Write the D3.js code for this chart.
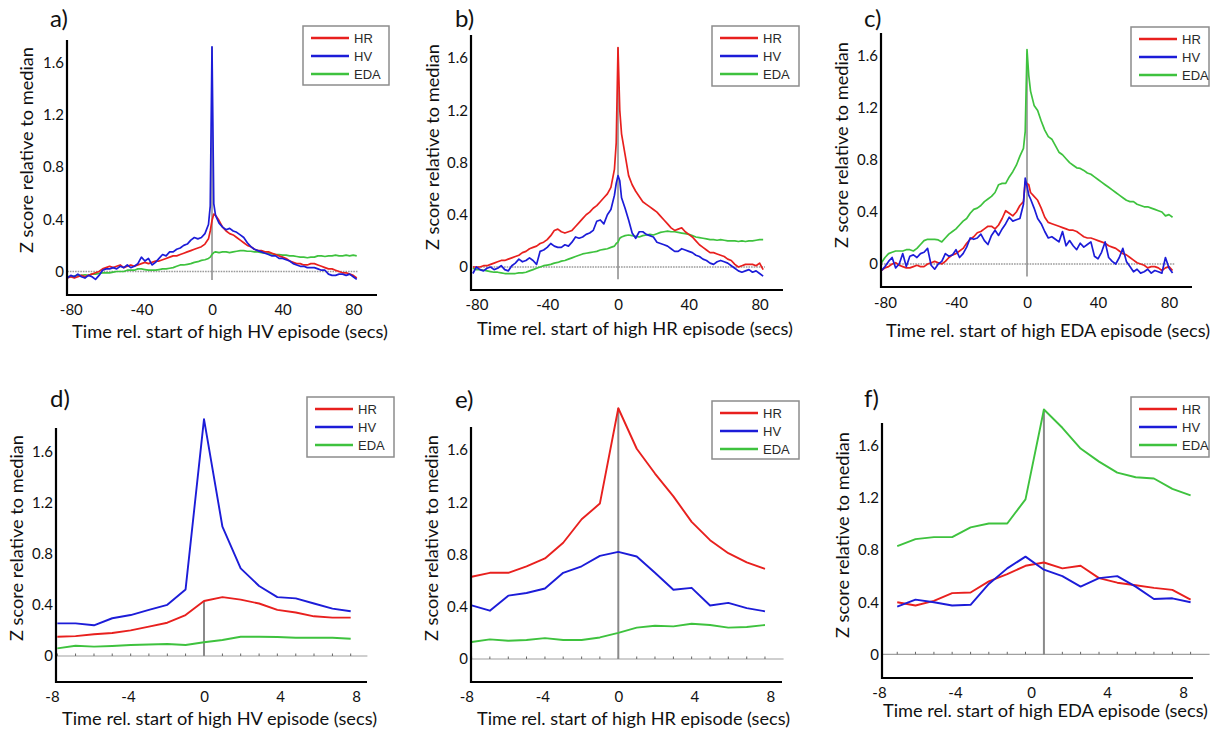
<!DOCTYPE html>
<html>
<head>
<meta charset="utf-8">
<script src="https://cdn.jsdelivr.net/npm/d3@7"></script>
<style>
  body { margin: 0; background: #fff; }
  svg { display: block; }
</style>
</head>
<body>
<div id="chart"></div>
<script>
// sample times (secs) - top row every 2 s, plus 1 s around the onset
const tTop = [
  -82, -80, -78, -76, -74, -72, -70, -68, -66, -64,
  -62, -60, -58, -56, -54, -52, -50, -48, -46, -44,
  -42, -40, -38, -36, -34, -32, -30, -28, -26, -24,
  -22, -20, -18, -16, -14, -12, -10, -8, -6, -4,
  -2, -1, 0, 1, 2, 4, 6, 8, 10, 12,
  14, 16, 18, 20, 22, 24, 26, 28, 30, 32,
  34, 36, 38, 40, 42, 44, 46, 48, 50, 52,
  54, 56, 58, 60, 62, 64, 66, 68, 70, 72,
  74, 76, 78, 80, 82
];
const tBottom = [-7.72, -6.76, -5.79, -4.83, -3.86, -2.9, -1.93, -0.97, 0, 0.97, 1.93, 2.9, 3.86, 4.83, 5.79, 6.76, 7.72];
const tBottomF = [-7.04, -6.08, -5.11, -4.15, -3.18, -2.22, -1.25, -0.29, 0.68, 1.65, 2.61, 3.58, 4.54, 5.51, 6.47, 7.44, 8.4];

const seriesNames = ['HR', 'HV', 'EDA'];
const seriesColors = ['#e8201e', '#1c1cd8', '#3ec23e'];

// a) high HV episode, 1 s data
const aHR = [
  -0.05, -0.04, -0.05, -0.04, -0.03, -0.04, -0.03, -0.02, -0.01, 0.00,
  0.02, 0.03, 0.04, 0.03, 0.04, 0.05, 0.03, 0.04, 0.05, 0.04,
  0.05, 0.06, 0.07, 0.06, 0.07, 0.08, 0.08, 0.09, 0.10, 0.11,
  0.12, 0.12, 0.13, 0.14, 0.15, 0.16, 0.17, 0.18, 0.19, 0.21,
  0.25, 0.31, 0.39, 0.44, 0.43, 0.39, 0.34, 0.31, 0.29, 0.28,
  0.26, 0.24, 0.22, 0.20, 0.19, 0.17, 0.16, 0.16, 0.15, 0.15,
  0.14, 0.13, 0.12, 0.11, 0.10, 0.08, 0.07, 0.06, 0.06, 0.05,
  0.05, 0.06, 0.06, 0.05, 0.04, 0.03, 0.02, 0.02, 0.01, 0.00,
  -0.01, -0.01, -0.02, -0.03, -0.05
];
const aHV = [
  -0.05, -0.03, -0.04, -0.02, -0.04, -0.05, -0.03, -0.04, -0.06, -0.03,
  0.01, 0.02, 0.02, 0.03, 0.02, 0.04, 0.03, 0.05, 0.03, 0.04,
  0.06, 0.11, 0.08, 0.10, 0.05, 0.07, 0.10, 0.13, 0.12, 0.15,
  0.15, 0.17, 0.18, 0.20, 0.21, 0.24, 0.26, 0.25, 0.26, 0.29,
  0.36, 0.50, 1.72, 0.52, 0.43, 0.37, 0.34, 0.32, 0.33, 0.31,
  0.30, 0.28, 0.26, 0.22, 0.19, 0.17, 0.16, 0.15, 0.14, 0.13,
  0.12, 0.12, 0.10, 0.10, 0.09, 0.08, 0.06, 0.05, 0.04, 0.04,
  0.03, 0.03, 0.03, 0.02, 0.01, 0.01, -0.02, -0.03, -0.03, -0.02,
  -0.02, -0.03, -0.02, -0.04, -0.06
];
const aEDA = [
  -0.04, -0.04, -0.035, -0.03, -0.03, -0.025, -0.03, -0.02, -0.02, -0.015,
  -0.01, -0.01, -0.01, -0.005, 0.00, 0.00, 0.00, 0.01, 0.01, 0.01,
  0.02, 0.02, 0.015, 0.01, 0.01, 0.01, 0.015, 0.02, 0.02, 0.025,
  0.03, 0.04, 0.05, 0.05, 0.055, 0.06, 0.07, 0.075, 0.085, 0.09,
  0.10, 0.11, 0.13, 0.145, 0.15, 0.145, 0.15, 0.15, 0.145, 0.15,
  0.155, 0.16, 0.16, 0.155, 0.155, 0.15, 0.15, 0.145, 0.14, 0.14,
  0.135, 0.13, 0.13, 0.125, 0.125, 0.12, 0.12, 0.115, 0.11, 0.11,
  0.105, 0.11, 0.11, 0.12, 0.12, 0.115, 0.12, 0.12, 0.125, 0.12,
  0.12, 0.125, 0.12, 0.125, 0.12
];

// b) high HR episode, 1 s data
const bHR = [
  0.00, 0.00, 0.00, 0.01, 0.01, 0.02, 0.03, 0.04, 0.05, 0.05,
  0.06, 0.07, 0.08, 0.09, 0.11, 0.12, 0.14, 0.15, 0.16, 0.18,
  0.19, 0.21, 0.24, 0.28, 0.29, 0.27, 0.26, 0.27, 0.28, 0.31,
  0.34, 0.37, 0.40, 0.42, 0.45, 0.47, 0.50, 0.53, 0.56, 0.61,
  0.75, 0.95, 1.68, 1.20, 1.02, 0.86, 0.70, 0.63, 0.58, 0.54,
  0.50, 0.48, 0.46, 0.44, 0.42, 0.39, 0.36, 0.33, 0.30, 0.28,
  0.29, 0.30, 0.27, 0.25, 0.23, 0.20, 0.17, 0.15, 0.13, 0.11,
  0.11, 0.10, 0.09, 0.08, 0.06, 0.05, 0.02, 0.00, 0.01, 0.02,
  0.02, 0.02, 0.01, 0.03, -0.02
];
const bHV = [
  -0.05, 0.00, -0.02, -0.03, -0.01, 0.00, -0.02, -0.01, 0.01, -0.02,
  -0.03, 0.01, 0.03, 0.06, 0.04, 0.05, 0.07, 0.05, 0.02, 0.12,
  0.13, 0.15, 0.18, 0.16, 0.15, 0.15, 0.17, 0.16, 0.19, 0.23,
  0.22, 0.23, 0.25, 0.26, 0.28, 0.35, 0.36, 0.33, 0.40, 0.44,
  0.55, 0.64, 0.70, 0.66, 0.53, 0.45, 0.36, 0.26, 0.22, 0.27,
  0.27, 0.25, 0.24, 0.23, 0.19, 0.18, 0.17, 0.16, 0.14, 0.12,
  0.12, 0.14, 0.13, 0.12, 0.11, 0.09, 0.08, 0.06, 0.05, 0.03,
  0.02, 0.04, 0.05, 0.04, 0.03, 0.01, -0.01, -0.03, -0.04, -0.03,
  -0.02, -0.04, -0.03, -0.05, -0.07
];
const bEDA = [
  -0.01, -0.02, -0.02, -0.025, -0.03, -0.035, -0.04, -0.04, -0.045, -0.05,
  -0.05, -0.05, -0.05, -0.045, -0.045, -0.04, -0.03, -0.02, -0.01, 0.00,
  0.01, 0.015, 0.02, 0.03, 0.035, 0.045, 0.05, 0.06, 0.07, 0.08,
  0.09, 0.10, 0.105, 0.11, 0.115, 0.12, 0.13, 0.135, 0.14, 0.15,
  0.16, 0.18, 0.19, 0.22, 0.23, 0.24, 0.245, 0.24, 0.235, 0.23,
  0.24, 0.245, 0.25, 0.245, 0.255, 0.265, 0.27, 0.275, 0.27, 0.27,
  0.265, 0.26, 0.255, 0.25, 0.24, 0.23, 0.225, 0.22, 0.215, 0.21,
  0.21, 0.205, 0.21, 0.205, 0.20, 0.20, 0.20, 0.195, 0.20, 0.195,
  0.20, 0.20, 0.205, 0.21, 0.21
];

// c) high EDA episode, 1 s data
const cHR = [
  -0.05, -0.03, -0.02, 0.00, 0.01, -0.01, -0.02, -0.03, -0.03, -0.02,
  -0.01, -0.02, -0.02, 0.00, 0.01, 0.02, 0.01, 0.00, 0.02, 0.05,
  0.07, 0.08, 0.10, 0.12, 0.16, 0.19, 0.21, 0.24, 0.25, 0.27,
  0.29, 0.29, 0.27, 0.30, 0.35, 0.41, 0.39, 0.37, 0.40, 0.45,
  0.48, 0.63, 0.62, 0.61, 0.55, 0.52, 0.49, 0.43, 0.36, 0.32,
  0.31, 0.30, 0.29, 0.28, 0.27, 0.26, 0.26, 0.25, 0.23, 0.21,
  0.20, 0.20, 0.19, 0.18, 0.17, 0.16, 0.14, 0.13, 0.12, 0.10,
  0.08, 0.07, 0.05, 0.03, 0.01, 0.00, -0.01, -0.03, -0.02, -0.02,
  -0.03, -0.05, -0.03, -0.02, -0.05
];
const cHV = [
  -0.05, -0.02, 0.02, 0.05, -0.03, 0.00, 0.08, -0.02, 0.06, 0.07,
  0.05, 0.08, 0.09, 0.12, -0.01, -0.04, 0.00, 0.02, 0.08, 0.06,
  0.07, 0.11, 0.05, 0.08, 0.13, 0.20, 0.19, 0.20, 0.23, 0.18,
  0.15, 0.22, 0.26, 0.22, 0.27, 0.31, 0.36, 0.33, 0.34, 0.35,
  0.46, 0.66, 0.60, 0.53, 0.50, 0.43, 0.35, 0.31, 0.25, 0.20,
  0.21, 0.19, 0.17, 0.25, 0.14, 0.18, 0.14, 0.11, 0.16, 0.13,
  0.15, 0.17, 0.06, 0.04, 0.09, 0.17, 0.05, 0.02, 0.00, 0.05,
  0.12, 0.02, -0.02, -0.06, -0.04, -0.07, -0.06, -0.04, -0.07, -0.05,
  -0.06, -0.07, 0.05, -0.03, -0.07
];
const cEDA = [
  0.01, 0.05, 0.08, 0.09, 0.10, 0.10, 0.10, 0.11, 0.11, 0.10,
  0.12, 0.15, 0.18, 0.19, 0.19, 0.19, 0.185, 0.17, 0.20, 0.23,
  0.25, 0.27, 0.30, 0.33, 0.35, 0.39, 0.42, 0.43, 0.45, 0.48,
  0.50, 0.52, 0.55, 0.61, 0.62, 0.62, 0.67, 0.71, 0.76, 0.83,
  0.89, 1.02, 1.65, 1.45, 1.33, 1.22, 1.18, 1.10, 1.03, 0.98,
  0.96, 0.91, 0.86, 0.84, 0.81, 0.78, 0.76, 0.74, 0.735, 0.72,
  0.70, 0.69, 0.67, 0.65, 0.63, 0.61, 0.59, 0.57, 0.55, 0.53,
  0.51, 0.49, 0.48, 0.48, 0.46, 0.45, 0.44, 0.44, 0.43, 0.42,
  0.41, 0.40, 0.37, 0.38, 0.36
];

// d) e) f) coarse 1 s bins
const dHR = [0.15, 0.155, 0.17, 0.18, 0.20, 0.23, 0.26, 0.32, 0.43, 0.46, 0.44, 0.41, 0.36, 0.34, 0.31, 0.30, 0.30];
const dHV = [0.255, 0.255, 0.24, 0.295, 0.32, 0.36, 0.40, 0.52, 1.85, 1.01, 0.685, 0.547, 0.46, 0.45, 0.41, 0.37, 0.35];
const dEDA = [0.06, 0.08, 0.073, 0.078, 0.086, 0.09, 0.094, 0.086, 0.107, 0.125, 0.15, 0.15, 0.148, 0.143, 0.143, 0.143, 0.135];

const eHR = [0.63, 0.66, 0.66, 0.71, 0.77, 0.89, 1.07, 1.19, 1.92, 1.61, 1.42, 1.245, 1.05, 0.91, 0.81, 0.74, 0.69];
const eHV = [0.41, 0.37, 0.485, 0.505, 0.54, 0.66, 0.71, 0.79, 0.82, 0.785, 0.66, 0.53, 0.545, 0.41, 0.43, 0.39, 0.365];
const eEDA = [0.13, 0.15, 0.14, 0.145, 0.16, 0.145, 0.145, 0.165, 0.20, 0.24, 0.255, 0.25, 0.27, 0.26, 0.24, 0.245, 0.26];

const fHR = [0.40, 0.375, 0.41, 0.47, 0.475, 0.56, 0.615, 0.68, 0.705, 0.66, 0.68, 0.585, 0.55, 0.53, 0.51, 0.495, 0.42];
const fHV = [0.366, 0.42, 0.40, 0.375, 0.38, 0.54, 0.66, 0.75, 0.65, 0.60, 0.52, 0.585, 0.60, 0.52, 0.425, 0.43, 0.40];
const fEDA = [0.83, 0.885, 0.90, 0.90, 0.975, 1.005, 1.005, 1.19, 1.88, 1.74, 1.58, 1.48, 1.395, 1.36, 1.35, 1.27, 1.22];

const yTicks = [0, 0.4, 0.8, 1.2, 1.6];
const xTicksTop = [-80, -40, 0, 40, 80];
const xTicksBottom = [-8, -4, 0, 4, 8];
const panelLetters = ['a)', 'b)', 'c)', 'd)', 'e)', 'f)'];
const xLabels = [
  'Time rel. start of high HV episode (secs)',
  'Time rel. start of high HR episode (secs)',
  'Time rel. start of high EDA episode (secs)',
  'Time rel. start of high HV episode (secs)',
  'Time rel. start of high HR episode (secs)',
  'Time rel. start of high EDA episode (secs)'
];
const yLabel = 'Z score relative to median';

// layout: frame edges, pixel of t=0 / z=0 and px per unit
const panels = [
  { L: 67, R: 377, T: 40, B: 295, x0: 212, xu: 1.765, y0: 271.5, yu: 130.6, t: tTop, data: [aHR, aHV, aEDA], xTicks: xTicksTop,
    lx: 50, ly: 27, xl: [72, 338, 316], yl: [33, 150], vline: [-0.065, 1.72], zero: [-82, 82.5], top: true, tickY: 20, leg: [303, 26, 86, 59] },
  { L: 471, R: 783, T: 35, B: 290, x0: 618, xu: 1.77, y0: 267, yu: 130.6, t: tTop, data: [bHR, bHV, bEDA], xTicks: xTicksTop,
    lx: 455, ly: 27, xl: [477, 335, 316], yl: [439, 147], vline: [-0.094, 1.68], zero: [-82, 83], top: true, tickY: 20, leg: [712, 26, 87, 60] },
  { L: 881, R: 1192, T: 33, B: 287, x0: 1027, xu: 1.775, y0: 264, yu: 130, t: tTop, data: [cHR, cHV, cEDA], xTicks: xTicksTop,
    lx: 864, ly: 27, xl: [886, 337, 324], yl: [848, 145], vline: [-0.097, 1.62], zero: [-82, 83], top: true, tickY: 21, leg: [1131, 27, 78, 59] },
  { L: 56, R: 367, T: 428, B: 682, x0: 204, xu: 19, y0: 656, yu: 128, t: tBottom, data: [dHR, dHV, dEDA], xTicks: xTicksBottom,
    lx: 50, ly: 407, xl: [62, 725, 315], yl: [23, 538], vline: [0, 0.43], zero: [null, 8.6], top: false, tickY: 20, leg: [307, 397, 87, 60] },
  { L: 471, R: 782, T: 427, B: 682, x0: 618.3, xu: 19, y0: 659, yu: 130.6, t: tBottom, data: [eHR, eHV, eEDA], xTicks: xTicksBottom,
    lx: 455, ly: 408, xl: [477, 725, 313], yl: [438, 538], vline: [0, 1.92], zero: [null, 8.7], top: false, tickY: 20, leg: [712, 401, 87, 58] },
  { L: 882, R: 1193, T: 423, B: 678, x0: 1031, xu: 19, y0: 654.3, yu: 130.2, t: tBottomF, data: [fHR, fHV, fEDA], xTicks: xTicksBottom,
    lx: 864, ly: 407, xl: [883, 717, 325], yl: [849, 535], vline: [0, 1.88], zero: [null, 9.4], top: false, tickY: 20, leg: [1131, 397, 78, 60] }
];

const font = 'Lato, "Open Sans", sans-serif';

const svg = d3.select('#chart')
  .append('svg')
  .attr('width', 1220)
  .attr('height', 732);

panels.forEach((p, pi) => {
  const x = d3.scaleLinear()
    .domain([(p.L - p.x0) / p.xu, (p.R - p.x0) / p.xu])
    .range([p.L, p.R]);
  const y = d3.scaleLinear()
    .domain([(p.y0 - p.B) / p.yu, (p.y0 - p.T) / p.yu])
    .range([p.B, p.T]);

  const g = svg.append('g').attr('class', 'panel-' + pi);
  const onsetIdx = p.t.length === 17 ? 8 : 42;

  // zero reference line
  const zStart = p.zero[0] === null ? x.domain()[0] : p.zero[0];
  g.append('line')
    .attr('x1', x(zStart))
    .attr('x2', x(p.zero[1]))
    .attr('y1', y(0))
    .attr('y2', y(0))
    .attr('stroke', p.top ? '#9a9a9a' : '#a0a0a0')
    .attr('stroke-width', p.top ? 1.3 : 1.2)
    .attr('stroke-dasharray', p.top ? '1.6,1' : null);

  // small marks on the zero line at the sample times (bottom row)
  if (!p.top) {
    g.selectAll('.zmark')
      .data(p.t)
      .enter()
      .append('line')
      .attr('x1', (d) => x(d))
      .attr('x2', (d) => x(d))
      .attr('y1', y(0) - 2.5)
      .attr('y2', y(0))
      .attr('stroke', '#666')
      .attr('stroke-width', 1);
  }

  // onset line
  g.append('line')
    .attr('x1', x(p.t[onsetIdx]))
    .attr('x2', x(p.t[onsetIdx]))
    .attr('y1', y(p.vline[0]))
    .attr('y2', y(p.vline[1]))
    .attr('stroke', '#8a8a8a')
    .attr('stroke-width', p.top ? 1.5 : 2);

  // series
  const line = d3.line()
    .x((d, i) => x(p.t[i]))
    .y((d) => y(d));

  [2, 0, 1].forEach((si) => {
    g.append('path')
      .datum(p.data[si])
      .attr('fill', 'none')
      .attr('stroke', seriesColors[si])
      .attr('stroke-width', p.top ? 1.7 : 1.9)
      .attr('stroke-linejoin', 'round')
      .attr('d', line);
  });

  // axes frame
  g.append('line')
    .attr('x1', p.L).attr('x2', p.L)
    .attr('y1', p.T).attr('y2', p.B + 1)
    .attr('stroke', '#000').attr('stroke-width', 2.2);
  g.append('line')
    .attr('x1', p.L - 1).attr('x2', p.R)
    .attr('y1', p.B).attr('y2', p.B)
    .attr('stroke', '#000').attr('stroke-width', 2.2);

  const yAxis = g.append('g')
    .attr('transform', 'translate(' + p.L + ',0)')
    .call(d3.axisLeft(y).tickValues(yTicks).tickSize(0).tickPadding(3)
      .tickFormat((v) => v === 0 ? '0' : v.toFixed(1)));
  yAxis.select('.domain').remove();
  yAxis.selectAll('text')
    .attr('font-family', font)
    .attr('font-size', '15px')
    .attr('fill', '#111');

  const xAxis = g.append('g')
    .attr('transform', 'translate(0,' + p.B + ')')
    .call(d3.axisBottom(x).tickValues(p.xTicks).tickSize(0)
      .tickFormat((v) => String(v)));
  xAxis.select('.domain').remove();
  xAxis.selectAll('text')
    .attr('y', p.tickY)
    .attr('dy', 0)
    .attr('font-family', font)
    .attr('font-size', '15px')
    .attr('fill', '#111');

  // axis labels
  g.append('text')
    .attr('x', p.xl[0])
    .attr('y', p.xl[1])
    .attr('textLength', p.xl[2])
    .attr('lengthAdjust', 'spacingAndGlyphs')
    .attr('font-family', font)
    .attr('font-size', '17px')
    .attr('fill', '#111')
    .text(xLabels[pi]);

  g.append('text')
    .attr('transform', 'translate(' + p.yl[0] + ',' + p.yl[1] + ') rotate(-90)')
    .attr('text-anchor', 'middle')
    .attr('textLength', 206)
    .attr('lengthAdjust', 'spacingAndGlyphs')
    .attr('font-family', font)
    .attr('font-size', '17px')
    .attr('fill', '#111')
    .text(yLabel);

  // panel letter
  g.append('text')
    .attr('x', p.lx)
    .attr('y', p.ly)
    .attr('font-family', font)
    .attr('font-size', '24px')
    .attr('fill', '#111')
    .text(panelLetters[pi]);

  // legend
  const lg = g.append('g').attr('transform', 'translate(' + p.leg[0] + ',' + p.leg[1] + ')');
  lg.append('rect')
    .attr('width', p.leg[2])
    .attr('height', p.leg[3])
    .attr('fill', '#fff')
    .attr('stroke', '#8c8c8c')
    .attr('stroke-width', 1.5);
  seriesNames.forEach((name, si) => {
    const ry = 12 + si * 18;
    lg.append('line')
      .attr('x1', 8).attr('x2', 46)
      .attr('y1', ry).attr('y2', ry)
      .attr('stroke', seriesColors[si])
      .attr('stroke-width', 2.6);
    lg.append('text')
      .attr('x', 51)
      .attr('y', ry)
      .attr('dy', '0.36em')
      .attr('font-family', '"Liberation Sans", Arial, sans-serif')
      .attr('font-size', '13px')
      .attr('fill', '#2a2a2a')
      .text(name);
  });
});
</script>
</body>
</html>
